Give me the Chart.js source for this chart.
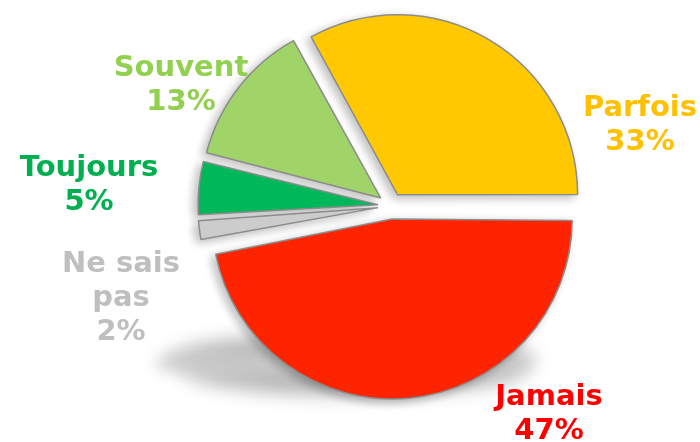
<!DOCTYPE html>
<html>
<head>
<meta charset="utf-8">
<script src="https://cdn.jsdelivr.net/npm/chart.js@4/dist/chart.umd.min.js"></script>
<style>
  html, body { margin: 0; padding: 0; background: #fff; }
  #wrap { width: 700px; height: 442px; position: relative; }
</style>
</head>
<body>
<div id="wrap"><canvas id="pieChart"></canvas></div>
<script>
// data
const labels = ['Parfois', 'Jamais', 'Ne sais pas', 'Toujours', 'Souvent'];
const values = [33, 47, 2, 5, 13];
const labelLines = [['Parfois'], ['Jamais'], ['Ne sais', 'pas'], ['Toujours'], ['Souvent']];

const sliceColors = ['#FFC800', '#FF2400', '#CCCCCC', '#00B85A', '#A0D468'];
const textColors = ['#FFC000', '#FF0000', '#BFBFBF', '#00B050', '#92D050'];

const RADIUS = 180;
const EXPLODE = 13; // px each slice is pulled out

// label block centres, relative to the pie centre
const labelOffsets = [[249, -81], [158, 208], [-270, 92], [-302, -21], [-210, -121]];

// chart.js grows the radius of exploded arcs, undo that so all slices share one radius
const radiusFix = {
    id: 'radiusFix',
    afterDatasetsUpdate(chart) {
        chart.getDatasetMeta(0).data.forEach(arc => {
            const fix = 1 - Math.sin(Math.min(Math.PI, arc.circumference));
            arc.outerRadius = RADIUS - EXPLODE * fix;
        });
    }
};

// soft floor shadow + small drop shadow, drawn off canvas so only the shadow shows
const pieShadow = {
    id: 'pieShadow',
    beforeDatasetsDraw(chart) {
        const ctx = chart.ctx;
        const arcs = chart.getDatasetMeta(0).data;
        const cx = arcs[0].x, cy = arcs[0].y;

        ctx.save();
        ctx.shadowOffsetX = 3000;
        ctx.shadowBlur = 18;
        ctx.shadowColor = 'rgba(0,0,0,0.3)';
        ctx.translate(cx - 40 - 3000, cy + 158);
        ctx.scale(1, 0.16);
        ctx.translate(-cx, -cy);
        arcs.forEach(a => a.draw(ctx));
        ctx.restore();

        ctx.save();
        ctx.shadowOffsetX = 3000 - 4;
        ctx.shadowOffsetY = 3;
        ctx.shadowBlur = 10;
        ctx.shadowColor = 'rgba(0,0,0,0.25)';
        ctx.translate(-3000, 0);
        arcs.forEach(a => a.draw(ctx));
        ctx.restore();
    }
};

const pieLabels = {
    id: 'pieLabels',
    afterDatasetsDraw(chart) {
        const ctx = chart.ctx;
        const arcs = chart.getDatasetMeta(0).data;
        const cx = arcs[0].x, cy = arcs[0].y;
        const lineH = 34;
        ctx.save();
        ctx.font = 'bold 29px "DejaVu Sans", Verdana, sans-serif';
        ctx.textAlign = 'center';
        ctx.textBaseline = 'middle';
        values.forEach((v, i) => {
            const lines = labelLines[i].concat([v + '%']);
            const x = cx + labelOffsets[i][0];
            const y0 = cy + labelOffsets[i][1] - (lines.length - 1) * lineH / 2;
            ctx.fillStyle = textColors[i];
            lines.forEach((t, j) => ctx.fillText(t, x, y0 + j * lineH));
        });
        ctx.restore();
    }
};

const ctx = document.getElementById('pieChart').getContext('2d');
new Chart(ctx, {
    type: 'pie',
    data: {
        labels: labels,
        datasets: [{
            data: values,
            backgroundColor: sliceColors,
            borderColor: '#8C8C8C',
            borderWidth: 1.5,
            offset: EXPLODE * 4
        }]
    },
    options: {
        responsive: true,
        maintainAspectRatio: false,
        animation: false,
        rotation: -28.8,
        radius: RADIUS,
        layout: { padding: { left: 82, right: 0, top: 0, bottom: 30 } },
        plugins: {
            legend: { display: false },
            tooltip: { enabled: false }
        }
    },
    plugins: [radiusFix, pieShadow, pieLabels]
});
</script>
</body>
</html>
